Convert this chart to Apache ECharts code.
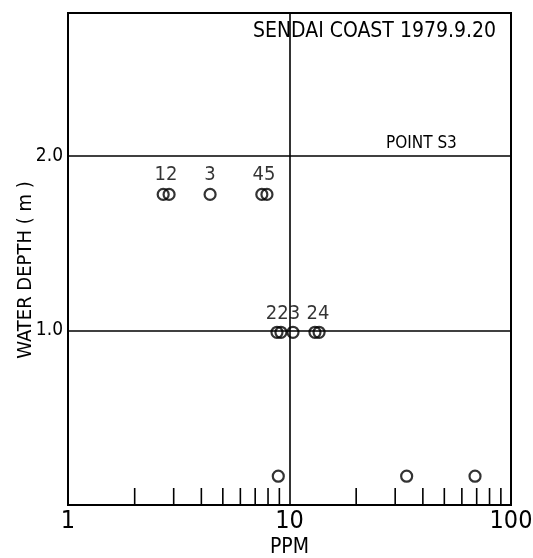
<!DOCTYPE html>
<html><head><meta charset="utf-8">
<script src="https://cdn.jsdelivr.net/npm/echarts@6/dist/echarts.min.js"></script>
<style>html,body{margin:0;padding:0;background:#fff}#c{width:533px;height:558px}</style>
</head><body><div id="c"></div>
<script>
// Data
const depthShallow = 1.78;
const shallowPPM = [2.69, 2.86, 4.38, 7.5, 7.91];
const depthMid = 0.99;
const midPPM = [8.78, 9.15, 10.37, 13.03, 13.6];
const depthBottom = 0.165;
const bottomPPM = [8.9, 33.8, 68.8];
const groupLabels = ['12', '3', '45', '223', '24'];
const groupLabelPPM = [2.77, 4.38, 7.67, 9.35, 13.45];
const groupLabelDepth = [1.89, 1.89, 1.89, 1.095, 1.095];
const minorTicks = [2,3,4,5,6,7,8,9,20,30,40,50,60,70,80,90];
const yTickLabels = ['1.0', '2.0'];

const FONT = 'DejaVu Sans Condensed, Liberation Sans Narrow, sans-serif';
const chart = echarts.init(document.getElementById('c'), null, {renderer:'canvas'});

const pts = [];
shallowPPM.forEach(v => pts.push([v, depthShallow]));
midPPM.forEach(v => pts.push([v, depthMid]));
bottomPPM.forEach(v => pts.push([v, depthBottom]));

chart.setOption({
  animation: false,
  backgroundColor: '#fff',
  title: [
    {text: 'SENDAI COAST 1979.9.20', left: 248, top: 16,
     textStyle: {fontFamily: FONT, fontWeight: 'normal', fontSize: 21, color: '#000'}},
    {text: 'POINT S3', left: 381, top: 130,
     textStyle: {fontFamily: FONT, fontWeight: 'normal', fontSize: 17, color: '#000'}}
  ],
  grid: {left: 68, right: 22, top: 13, bottom: 53, show: true, borderColor: '#000', borderWidth: 2,
         containLabel: false, outerBoundsMode: 'none'},
  xAxis: {
    type: 'log', logBase: 10, min: 1, max: 100,
    name: 'PPM', nameLocation: 'middle', nameGap: 32, nameMoveOverlap: false,
    nameTextStyle: {fontFamily: FONT, fontSize: 21, color: '#000'},
    axisLine: {show: true, lineStyle: {color: '#000', width: 2}},
    axisTick: {show: false},
    axisLabel: {fontFamily: FONT, fontSize: 25, color: '#000', margin: 4},
    splitLine: {show: true, lineStyle: {color: '#000', width: 1.6}},
    minorTick: {show: false}
  },
  yAxis: {
    type: 'value', min: 0, max: 2.82, interval: 1,
    name: 'WATER DEPTH ( m )', nameLocation: 'middle', nameGap: 32, nameRotate: 90,
    nameMoveOverlap: false,
    nameTextStyle: {fontFamily: FONT, fontSize: 20, color: '#000', padding: [0, 22, 0, 0]},
    axisLine: {show: true, lineStyle: {color: '#000', width: 2}},
    axisTick: {show: false},
    axisLabel: {fontFamily: FONT, fontSize: 19, color: '#000', margin: 5,
      formatter: v => (Math.abs(v-1) < 1e-6 ? yTickLabels[0] : Math.abs(v-2) < 1e-6 ? yTickLabels[1] : '')},
    splitLine: {show: true, lineStyle: {color: '#000', width: 1.6}}
  },
  series: [
    {
      type: 'scatter', data: pts, symbol: 'circle', symbolSize: 11,
      itemStyle: {color: 'rgba(255,255,255,0)', borderColor: '#000', borderWidth: 2.2},
      silent: true
    },
    {
      type: 'scatter', symbolSize: 0,
      data: groupLabels.map((t, i) => ({value: [groupLabelPPM[i], groupLabelDepth[i]], name: t})),
      label: {show: true, position: 'inside', formatter: p => p.name,
        fontFamily: FONT, fontSize: 20, color: '#000'},
      silent: true
    },
    {
      type: 'custom',
      data: minorTicks.map(v => [v, 0]),
      renderItem: (params, api) => {
        const p = api.coord([api.value(0), 0]);
        return {type: 'line', shape: {x1: p[0], y1: p[1], x2: p[0], y2: p[1] - 17},
          style: {stroke: '#000', lineWidth: 1.6}};
      },
      silent: true
    }
  ]
});
</script></body></html>
